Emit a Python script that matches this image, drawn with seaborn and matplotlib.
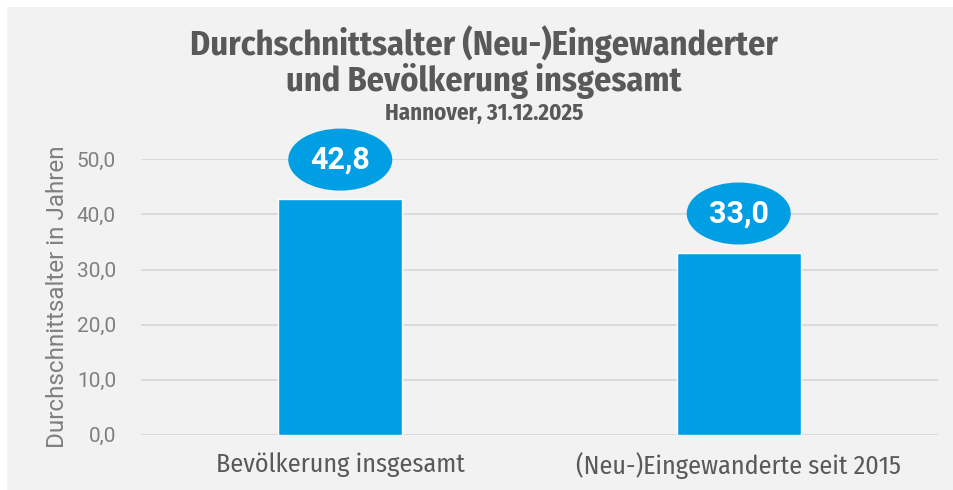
import matplotlib
matplotlib.use("Agg")
import matplotlib.pyplot as plt
from matplotlib.patches import Ellipse, Rectangle
import seaborn as sns
import pandas as pd

categories = ["Bevölkerung insgesamt", "(Neu-)Eingewanderte seit 2015"]
values = [42.8, 33.0]
value_labels = ["42,8", "33,0"]
yticks = [0, 10, 20, 30, 40, 50]
ytick_labels = ["0,0", "10,0", "20,0", "30,0", "40,0", "50,0"]

sns.set_theme(style="white")
COND = ["Fira Sans Condensed", "Roboto Condensed", "DejaVu Sans"]
ROB = ["Roboto", "DejaVu Sans"]
plt.rcParams["font.family"] = COND

W, H = 954, 490
fig = plt.figure(figsize=(W / 100, H / 100), dpi=100, facecolor="white")
fig.patches.append(Rectangle((7 / W, 0), 1 - 7 / W, 1 - 7 / H, transform=fig.transFigure,
                             facecolor="#f2f2f2", edgecolor="none", zorder=-10))

left, right = 141 / W, 938 / W
bottom, top = 1 - 434.5 / H, 1 - 159.5 / H
ax = fig.add_axes([left, bottom, right - left, top - bottom])
ax.set_facecolor("none")

df = pd.DataFrame({"cat": categories, "val": values})
sns.barplot(data=df, x="cat", y="val", color="#009fe3", width=0.31, saturation=1,
            ax=ax, zorder=3)

ax.set_ylim(0, 50)
ax.set_xlim(-0.5, 1.5)
ax.set_yticks(yticks)
ax.set_yticklabels(ytick_labels, fontsize=15, color="#7f7f7f", family=ROB)
ax.tick_params(axis="y", length=0, pad=18)
ax.tick_params(axis="x", length=0, pad=13)
for lab in ax.get_xticklabels():
    lab.set_fontsize(18.8)
    lab.set_color("#595959")
    lab.set_family(COND)
ax.grid(axis="y", color="#d9d9d9", linewidth=1.3, zorder=0)
ax.set_axisbelow(True)
for s in ax.spines.values():
    s.set_visible(False)
ax.set_xlabel("")
ax.set_ylabel("Durchschnittsalter in Jahren", fontsize=17.5, color="#7f7f7f",
              family=ROB, labelpad=6)

# px -> data conversions
px_per_x = (right - left) * W / 2.0
px_per_y = (top - bottom) * H / 50.0
for i, (v, lab) in enumerate(zip(values, value_labels)):
    cy = v + 39.5 / px_per_y
    e = Ellipse((i, cy), width=104 / px_per_x, height=62 / px_per_y,
                facecolor="#009fe3", edgecolor="none", clip_on=False, zorder=5)
    ax.add_patch(e)
    ax.text(i, cy, lab, ha="center", va="center", color="white", fontsize=22,
            fontweight="bold", family=ROB, zorder=6, clip_on=False)

fig.text(0.5 + 7 / W, 1 - 62 / H, "Durchschnittsalter (Neu-)Eingewanderter\nund Bevölkerung insgesamt",
         ha="center", va="center", fontsize=24.7, fontweight="bold", color="#595959",
         linespacing=1.0, family=COND)
fig.text(0.5 + 7 / W, 1 - 113 / H, "Hannover, 31.12.2025", ha="center", va="center",
         fontsize=16.5, fontweight="bold", color="#595959", family=COND)

fig.savefig("out.png", dpi=100, facecolor=fig.get_facecolor())
